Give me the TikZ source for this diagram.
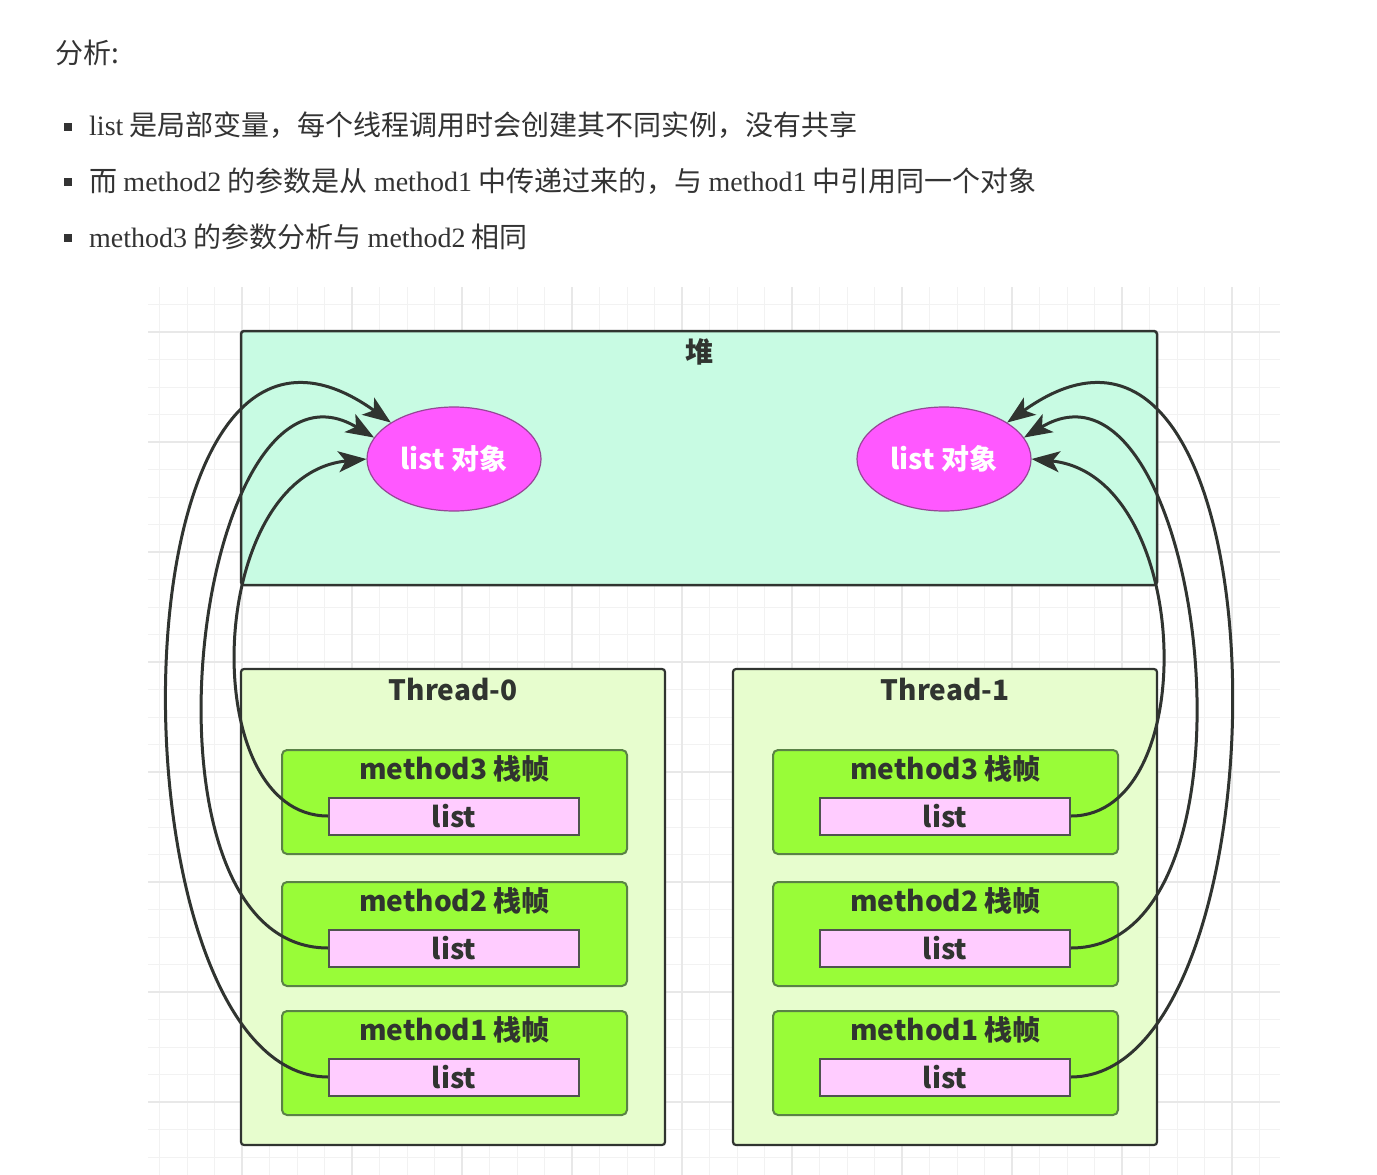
\documentclass[tikz,border=0pt]{standalone}
\usepackage{fontspec}
\setmainfont{Liberation Serif}
\newfontfamily\cjk{Noto Sans CJK SC}
\usetikzlibrary{arrows.meta,shapes.geometric,positioning}

\definecolor{gridc}{RGB}{242,242,242}
\definecolor{gridm}{RGB}{232,232,232}
\definecolor{txtc}{RGB}{51,51,51}
\definecolor{edgec}{RGB}{48,52,48}
\definecolor{heapc}{RGB}{200,251,227}
\definecolor{threadc}{RGB}{231,253,206}
\definecolor{framec}{RGB}{90,130,70}
\definecolor{framefill}{RGB}{153,252,56}
\definecolor{varc}{RGB}{255,204,255}
\definecolor{objc}{RGB}{255,88,255}
\definecolor{objedge}{RGB}{150,70,150}

\newcommand\lat[1]{{\rmfamily #1}}

\tikzset{
  line/.style={font=\cjk\fontsize{28}{34}\selectfont, text=txtc, anchor=west, inner sep=0pt},
  bullet/.style={fill=txtc, minimum size=8pt, inner sep=0pt},
  diag/.style={font=\cjk\bfseries\fontsize{28}{32}\selectfont, text=edgec},
  boxtitle/.style={diag, inner sep=2pt},
  heapbox/.style={draw=edgec, line width=2.5pt, fill=heapc, rounded corners=3pt, minimum width=916pt, minimum height=254pt},
  threadbox/.style={draw=edgec, line width=2.2pt, fill=threadc, rounded corners=3pt, minimum width=424pt, minimum height=476pt},
  framebox/.style={draw=framec, line width=2pt, fill=framefill, rounded corners=5pt, minimum width=345pt, minimum height=104pt},
  varbox/.style={diag, draw=edgec!85, line width=2pt, fill=varc, minimum width=250pt, minimum height=37pt, inner sep=0pt},
  obj/.style={diag, ellipse, draw=objedge, line width=1.2pt, fill=objc, text=white, minimum width=174pt, minimum height=104pt, inner sep=0pt},
  ref/.style={draw=edgec, line width=3pt, -{Stealth[length=28pt,width=21pt,inset=7pt]}}
}

\begin{document}
\begin{tikzpicture}[x=1pt,y=-1pt]
\fill[white] (0,0) rectangle (1377,1175);
\useasboundingbox (0,0) rectangle (1377,1175);

% grid
\foreach \i in {0,...,40}
  \draw[gridc, line width=1pt] ({159.5+27.5*\i},287) -- ({159.5+27.5*\i},1175);
\foreach \j in {0,...,31}
  \draw[gridc, line width=1pt] (148,{304.5+27.5*\j}) -- (1280,{304.5+27.5*\j});
\foreach \i in {0,...,9}
  \draw[gridm, line width=1.2pt] ({242+110*\i},287) -- ({242+110*\i},1175);
\foreach \j in {0,...,7}
  \draw[gridm, line width=1.2pt] (148,{332+110*\j}) -- (1280,{332+110*\j});

% notes
\node[line] (title) at (55,53) {分析:};
\node[line] (l1) at (89,125) {\lat{list} 是局部变量，每个线程调用时会创建其不同实例，没有共享};
\node[line] (l2) at (89,181) {而 \lat{method2} 的参数是从 \lat{method1} 中传递过来的，与 \lat{method1} 中引用同一个对象};
\node[line] (l3) at (89,237) {\lat{method3} 的参数分析与 \lat{method2} 相同};
\foreach \y in {127,182,238}
  \node[bullet] at (68,\y) {};

% heap
\node[heapbox] (heap) at (699,458) {};
\node[boxtitle, below=7pt of heap.north] (heaplabel) {堆};
\node[obj] (obj0) at (454,459) {list 对象};
\node[obj] (obj1) at (944,459) {list 对象};

% threads
\node[threadbox] (t0) at (453,907) {};
\node[boxtitle, below=8pt of t0.north] (t0label) {Thread-0};
\node[threadbox] (t1) at (945,907) {};
\node[boxtitle, below=8pt of t1.north] (t1label) {Thread-1};
\foreach \m/\y in {3/802,2/934,1/1063} {
  \node[framebox] (fa\m) at (454.5,\y) {};
  \node[boxtitle, below=4pt of fa\m.north] {method\m\ 栈帧};
  \node[varbox] (va\m) at ({454},{\y+14}) {list};
  \node[framebox] (fb\m) at (945.5,\y) {};
  \node[boxtitle, below=4pt of fb\m.north] {method\m\ 栈帧};
  \node[varbox] (vb\m) at ({945},{\y+14}) {list};
}

% references
\draw[ref] (va3.west) .. controls (195,816) and (205,475) .. (obj0.180);
\draw[ref] (va2.west) .. controls (120,948) and (195,330) .. (obj0.165);
\draw[ref] (va1.west) .. controls (104,1076) and (104,217) .. (obj0.150);
\draw[ref] (vb3.east) .. controls (1203,816) and (1193,475) .. (obj1.0);
\draw[ref] (vb2.east) .. controls (1278,948) and (1203,330) .. (obj1.15);
\draw[ref] (vb1.east) .. controls (1294,1076) and (1294,217) .. (obj1.30);
\end{tikzpicture}
\end{document}
